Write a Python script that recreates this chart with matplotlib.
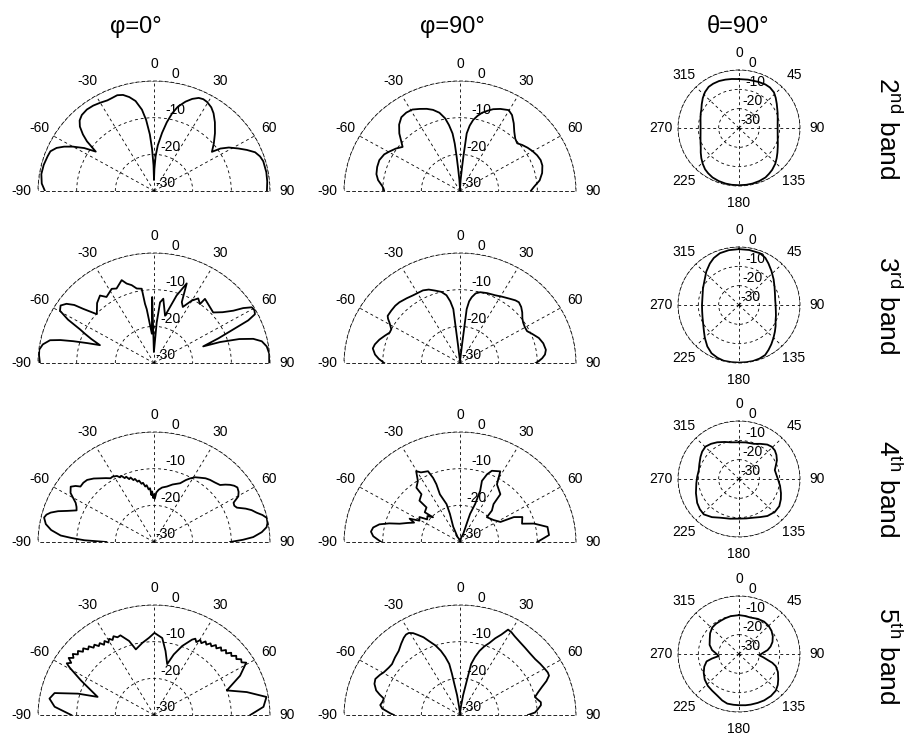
import numpy as np
import matplotlib
matplotlib.use('Agg')
import matplotlib.pyplot as plt
from matplotlib.transforms import offset_copy

plt.rcParams['font.family'] = ['Liberation Sans', 'DejaVu Sans']
plt.rcParams['axes.unicode_minus'] = False
plt.rcParams['mathtext.default'] = 'regular'

# ---- pattern data (angle in degrees, gain in dB) ----
# 2nd band
ang_b2_phi0 = [-90, -86, -81, -76, -71, -68, -65, -62.5, -60, -57, -54.5, -52, -50, -47.5, -45, -42,
               -38, -34, -30, -26, -23, -20, -17, -14, -11, -8, -6, -4, -2.5, -1, 0,
               1, 2.5, 4.5, 7.5, 10, 12.5, 15, 18.5, 21.5, 24.5, 27, 29.5, 33, 36, 40, 45, 50, 54.5,
               56, 58.5, 62, 65, 68, 71, 74, 80, 85, 90]
db_b2_phi0 = [-1.8, -0.9, -0.5, -0.6, -0.9, -1.1, -2.2, -3.8, -5.8, -8.5, -11.5, -8, -6, -4, -2.8, -2.1,
              -1.8, -1.9, -2.2, -2.5, -2.4, -2.2, -2.6, -3.6, -5, -7.6, -10.5, -14.5, -18.5, -23, -27,
              -24, -20.5, -17.5, -14, -11, -8.3, -6.2, -4.3, -3, -2.1, -1.9, -2.1, -2.8, -3.8, -5.5, -7.7,
              -9.8, -11.6, -9.3, -7.3, -5.3, -3.5, -1.8, -1, -0.6, -0.5, -0.6, -0.8]

ang_b2_phi90 = [-90, -88, -86, -82, -78, -73, -68, -63, -59.5, -55, -51, -48, -45, -41, -37, -33, -29,
                -25, -21, -17.5, -14, -11, -9, -7, -6, -5.3, -4.5, -3, 0, 3, 4.5, 5.3, 6.3, 8, 10,
                12.5, 15, 18, 21, 25, 29.7, 33, 37, 41, 45, 48.7, 52, 56, 60, 64, 68, 72, 77, 82, 86.5,
                90]
db_b2_phi90 = [-10.4, -10.2, -9.8, -8.6, -7.9, -7.6, -7.5, -8, -8.8, -9.8, -10.9, -9.5, -7.8, -6, -4.8,
               -4.5, -4.6, -5.3, -6, -6.8, -8, -9.8, -11.8, -14.2, -17, -20.6, -24, -27, -29.5, -27, -24,
               -20.6, -14.2, -12, -10.3, -9, -7.9, -7, -6.1, -5.3, -4.6, -5.3, -6.9, -8.6, -9.8, -10.3,
               -9.6, -8.9, -8.3, -7.8, -7.5, -7.6, -8.2, -9.2, -10.8, -11.7]

ang_b2_th90 = [0, 10, 22, 30, 36, 43, 49, 56, 62, 68, 75, 82, 90, 98, 106, 112, 117, 124, 130, 136,
               143, 148, 153, 160, 167, 173, 180, 187, 193, 200, 207, 213, 218, 224, 230, 236, 242,
               248, 255, 262, 270, 278, 285, 292, 297, 304, 311, 318, 325, 331, 338, 345, 352]
db_b2_th90 = [-4.7, -4.6, -4.3, -4.0, -4.1, -4.8, -6.1, -7.6, -8.7, -9.5, -10.3, -10.8, -11, -10.8,
              -10.2, -9.4, -8.6, -7.2, -5.8, -4.3, -2.9, -2.1, -1.3, -0.8, -0.5, -0.4, -0.4, -0.4, -0.5,
              -0.8, -1.3, -2.1, -2.9, -4.3, -5.8, -7.3, -8.7, -9.6, -10.4, -10.9, -11.1, -10.9, -10.4,
              -9.7, -9.2, -7.9, -6.4, -5, -4, -3.8, -3.8, -4.1, -4.4]

# 3rd band
ang_b3_phi0 = [-90, -86, -83, -80, -77, -75.5, -74.1, -72.5, -70.8, -68, -66, -64.4, -62, -59.6, -57,
               -54.5, -52.5, -51.1, -48, -42, -37.2, -34.3, -28.4, -25.5, -20.3, -18.1, -15.2, -12.4,
               -8.9, -8.2, -7.3, -4, -1.5, -0.5, 3.6, 5.4, 7.8, 12.5, 17.6, 21.3, 23.4, 26, 29.8, 33,
               36.5, 37, 43.7, 48, 52, 55.2, 57, 59, 61, 63, 64.5, 65.9, 68, 70.4, 71.5, 73.5, 75.6, 78,
               81.2, 85, 90]
db_b3_phi0 = [-0.5, -0.2, -0.1, -0.8, -2.4, -5, -8.3, -12, -15.2, -12.5, -10.5, -8.8, -4.8, -1.8, -1.2,
              -2.2, -4, -6.5, -10.1, -8, -6.9, -8.2, -7, -7.5, -5.9, -7.2, -8, -9.2,
              -9.5, -13.7, -15.2, -22, -12, -27, -19, -13.4, -12.3, -16.8, -10.7, -6.7, -11.9, -13, -10.4, -9,
              -10, -8.1, -9, -9.4, -7.5, -5, -2.5, -0.5, -0.3, -0.7, -3, -7.5, -12, -16.5, -12, -7, -3.5,
              -1.5, -0.5, -0.1, -0.2]

ang_b3_phi90 = [-90, -87, -84, -80, -77, -73, -69, -65.5, -62.7, -60.5, -58.9, -57, -55.5, -51.3, -47,
                -43.4, -38, -33.5, -29.5, -25.8, -22, -18.2, -14, -10.7, -8.5, -6.7, -6.5, -6, 0,
                6, 6.5, 6.7, 8, 9.6, 12, 15.1, 20, 26.3, 31, 36.7, 40, 42.6, 46, 49.4, 53, 56, 60, 63.4,
                67, 71.5, 76, 80.8, 84, 86.5, 88.5, 90]
db_b3_phi90 = [-10.4, -9, -7.9, -7.1, -7.4, -8.2, -9.2, -10, -10, -9.3, -8.7, -7.8, -7.3, -7.2, -7.1,
               -7.2, -7.6, -7.9, -8, -8, -8.4, -9.2, -10, -11.2, -13, -15.2, -20.8, -25, -29.5,
               -25, -20.8, -15.2, -13, -11.8, -10.6, -10, -9.7, -9.4, -8.9, -8.2, -7.7, -7.5, -8, -8.8,
               -9.8, -10.3, -10.6, -10.6, -9.7, -8.5, -7.8, -7.5, -7.9, -8.7, -9.6, -10.4]

ang_b3_th90 = [0, 10, 21, 28, 34, 42, 52, 62, 72, 81.5, 90, 100, 107, 114, 121, 128, 135, 142, 148,
               153.6, 160, 166.6, 173, 180, 187, 194.6, 201, 208.4, 216, 224.7, 232, 240, 250.9, 260,
               270, 284, 296, 308.5, 317, 326.2, 333, 340.7, 350]
db_b3_th90 = [-1.1, -1.1, -1.3, -2.4, -4.1, -6.2, -8.4, -10.2, -11.4, -12, -12, -11.6, -11, -10.3, -9,
              -7.6, -6, -4.2, -2.6, -1.1, -0.5, -0.2, -0.2, -0.2, -0.2, -0.2, -0.7, -1.6, -3.5, -6.1,
              -8.1, -9.7, -11, -11.6, -11.8, -11.5, -10.3, -8.5, -6.4, -4.2, -2.7, -1.6, -1.2]

# 4th band
ang_b4_phi0 = [-90, -88.5, -87, -85.8, -83, -80.1, -76.8, -75, -73.3, -71.3, -69.3, -66.7, -64.5, -62.2,
               -60, -58.2, -55, -53, -51.5, -48.5, -45.6, -42, -38.5, -35.5, -32.9, -31, -29.5, -28,
               -26.5, -25, -23.5, -22, -20.5, -19, -17.5, -16, -14.5, -13, -11.5, -10, -8.5, -7, -5.5,
               -4, -3, -2, -1, 0, 1, 2.5, 4.8, 8, 12.5, 17, 22.9, 26, 28.3, 31, 34.2, 37.5, 40.6, 44,
               47.7, 49.7, 51.6, 53.5, 55.4, 58, 60.3, 62.5, 64.5, 66.4, 69, 71, 73.2, 75.3, 77.3, 80,
               82.1, 84.5, 87, 88.5, 90]
db_b4_phi0 = [-17.7, -12, -8.5, -5.8, -3.2, -1.6, -0.8, -1.2, -2.1, -3.8, -6, -8.2, -7.8, -7.1,
              -5.8, -4.6, -3.7, -4.6, -5.7, -5.6, -5.8, -6.7, -7.8, -8.6, -9.3, -9.2, -9.4, -9.6,
              -10.3, -10.1, -11.0, -10.8, -11.7, -11.4, -12.3, -12.1, -13.0, -12.8, -13.8, -13.6, -14.7,
              -14.4, -15.6, -15.3, -17.2, -16.2, -18, -17, -18.2, -16.5, -15.7, -15, -14.5, -13.6, -12.6,
              -11.2, -10.3, -9.4, -8.8, -8.1, -7.7, -7.4, -6.9, -5.8, -4.9, -4.2, -3.8, -4.2, -4.9, -6.8,
              -7, -6.6, -4.6, -3.3, -2.3, -1, -0.1, -0.2, -0.6, -2, -4.3, -7, -10.3]

ang_b4_phi90 = [-90, -86, -83, -80, -77, -74.5, -72.3, -69, -66, -64, -61, -57, -54, -50, -46, -48.3,
                -42.6, -42.9, -37.4, -37.3, -33.2, -30.4, -28, -23.2, -21.7, -21.2, -21.8, -18.6,
                -18.8, -22.9, -25, 0, 20.6, 19.1, 18.8, 20.7, 20.5, 18.8, 20.7, 23, 28.4, 31.3, 38.7,
                40, 43.9, 45.7, 55, 62.4, 64, 67.1, 72.7, 75.3, 79.7, 85.3, 90]
db_b4_phi90 = [-9.6, -7.5, -6.8, -7.2, -8.6, -11, -13.6, -15.5, -17, -15.5, -18, -17.5, -19.5, -19,
               -20.3, -17.8, -17.2, -14.6, -13.6, -11.4, -10.1, -7.6, -8.5, -9, -11.2, -13.1, -16,
               -19.1, -21.9, -25.5, -28.5, -29.5, -27.5, -24.7, -21.9, -18.9, -15.1, -12.4, -10.3, -8.9,
               -8.1, -11.6, -13.3, -16.5, -18.1, -20.3, -19.5, -18.2, -14.5, -12.5, -13.2, -10.2, -7,
               -6.9, -10]

ang_b4_th90 = [0, 10, 22, 30, 38, 44, 50, 56, 62.6, 69, 75.4, 83, 91.5, 100, 109.5, 117, 125.4, 134,
               143.8, 152, 159.7, 170, 180, 192, 204.4, 214, 223.4, 231, 239, 251, 264, 273, 283, 292,
               301, 308, 315.5, 323, 330.6, 340, 347.8]
db_b4_th90 = [-11, -10.8, -10.4, -9, -7.4, -6.8, -7, -7.8, -9, -10.6, -11.8, -11.5, -10.7, -9.5, -8.1,
              -6.9, -5.7, -5.5, -6.3, -7.7, -8.7, -9.3, -9.5, -9, -8, -6.2, -4.8, -5.2, -6, -7.6, -8.9,
              -9.4, -9.7, -9, -7.9, -7, -6.5, -7.2, -8.2, -9.6, -10.6]

# 5th band
ang_b5_phi0 = [-90, -85, -80.6, -76.9, -73.5, -71.3, -63.5, -59.3, -58, -56.4, -54.8, -53.2, -51.6,
               -50, -48.4, -46.8, -45.2, -43.6, -42, -40.4, -38.8, -37.2, -35.6, -34, -32.4, -30.8,
               -29.2, -27.6, -26, -24, -21.8, -17.7, -14.7, -8.7, -3.5, 0.3, 5.8, 9.7, 13.8, 17.2,
               21.2, 25.6, 27.2, 28.8, 30.4, 32, 33.6, 35.2, 36.8, 38.4, 40, 41.6, 43.2, 44.8, 46.4,
               48, 49.6, 51.2, 52.8, 54.4, 56, 57.6, 59.1, 64.3, 70.4, 75.4, 80.4, 85.5, 90]
db_b5_phi0 = [-8.6, -4.2, -2.6, -3.6, -9.5, -14.6, -8.9, -4.6, -3.4, -4.3, -3.0, -4.0, -3.2,
              -4.3, -3.7, -4.8, -4.2, -5.3, -4.8, -5.9, -5.4, -6.4, -5.9, -6.9, -6.1, -7.0,
              -6.2, -6.9, -6.1, -6.8, -6.6, -8.8, -11.5, -10.1, -8.9, -7.6, -8.9, -12.3, -15.7, -12.7,
              -9.8, -7.2, -6.6, -7.3, -6.3, -6.9, -5.9, -6.5, -5.6, -6.1, -5.1, -5.7, -4.7, -5.3, -4.3,
              -4.9, -3.8, -4.3, -3.3, -3.8, -2.8, -3.2, -2.2, -5.3, -10, -5.2, -0.5, -1.6, -5.1]

ang_b5_phi90 = [-90, -88.6, -85, -82.5, -80, -77.2, -75, -72.8, -69, -65.8, -62, -59.5, -55, -51.7, -47,
                -42.2, -38, -34.6, -32.5, -30.6, -28.5, -26.7, -24, -21.7, -18.5, -15.8, -13.5, -11.3,
                -10.5, -9.8, -8, -6, 0, 6, 8.5, 10.4, 11.2, 11.7, 13.8, 16.1, 18.5, 21.2, 23.5, 26,
                28.1, 30.5, 33.4, 38, 42.4, 47, 51.9, 56, 60.3, 63, 65, 67.5, 70.2, 73, 75.8, 78, 80.5,
                82.7, 85.5, 88, 90]
db_b5_phi90 = [-12.9, -12, -9.8, -9.2, -9.6, -9.8, -8.5, -7.3, -6.3, -6, -6.6, -7.1, -7.5, -7.6, -7,
               -6.4, -5.3, -4.4, -4, -4, -4.6, -5.5, -6.8, -8.3, -10, -11.8, -13.7, -15.8,
               -18.5, -21.4, -24.5, -27.7, -29.5, -27.7, -24.5, -21.3, -18.5, -15.8, -13.7, -11.8, -10.3,
               -8.9, -7.2, -5.6, -3.6, -3.8, -4.3, -4.8, -5.1, -5.3, -5.3, -5, -4.7, -4.5, -4.6, -5.8,
               -7.5, -8.9, -10, -9.5, -8.8, -8.9, -9.8, -10.6, -12.4]

ang_b5_th90 = [0, 8, 17, 27, 36.4, 45, 53, 61, 69.3, 76, 81.8, 88, 93.8, 98, 102.2, 105.5, 109.3, 116,
               124.1, 130, 136.3, 144, 152.7, 160, 167.6, 173, 180, 186, 192.7, 199, 206.5, 215, 223,
               232, 240.7, 249, 256.5, 260, 264, 271, 278.7, 288, 298.8, 307, 316.2, 324, 332, 340,
               348.2]
db_b5_th90 = [-9.9, -10.1, -10.3, -9.6, -9.2, -9.4, -10, -11, -12.4, -14, -15.8, -18.5, -20, -18, -15.7,
              -13, -10.8, -8.7, -6.7, -5.1, -3.8, -3.2, -3, -3.1, -3.2, -3.3, -3.5, -3.6, -3.7, -4.6,
              -6, -6.9, -7.5, -8.6, -10.1, -11.7, -13.6, -16.5, -20, -18.8, -16.6, -14.8, -13.6, -12.2,
              -11, -10.7, -10.6, -10.3, -10]

half_rows = [
    (ang_b2_phi0, db_b2_phi0, ang_b2_phi90, db_b2_phi90),
    (ang_b3_phi0, db_b3_phi0, ang_b3_phi90, db_b3_phi90),
    (ang_b4_phi0, db_b4_phi0, ang_b4_phi90, db_b4_phi90),
    (ang_b5_phi0, db_b5_phi0, ang_b5_phi90, db_b5_phi90),
]
full_rows = [(ang_b2_th90, db_b2_th90), (ang_b3_th90, db_b3_th90),
             (ang_b4_th90, db_b4_th90), (ang_b5_th90, db_b5_th90)]
band_labels = ['2$^{nd}$ band', '3$^{rd}$ band', '4$^{th}$ band', '5$^{th}$ band']
col_titles = ['φ=0°', 'φ=90°', 'θ=90°']
r_ticks = [-30, -20, -10, 0]

W, H = 912, 738
DASH = (0, (3.5, 3.5))

# layout in pixels
half_cx = [154, 460]
half_base = [191, 363, 542, 715]
half_rh, half_rv = 116, 110
full_cx = 739
full_cy = [128, 305, 479, 654]
full_rh, full_rv = 61, 58


def style(ax, thetas):
    ax.set_theta_zero_location('N')
    ax.set_theta_direction(-1)
    ax.set_rlim(-30, 0)
    ax.set_thetagrids(thetas, labels=[str(t) for t in thetas], fontsize=10)
    ax.set_rgrids(r_ticks, labels=[''] * len(r_ticks))
    ax.grid(True, color='black', linestyle=DASH, linewidth=0.6)
    for sp in ax.spines.values():
        sp.set_linestyle(DASH)
        sp.set_linewidth(0.6)
    ax.tick_params(length=0)
    ax.tick_params(axis='x', pad=5)
    ax.set_aspect('auto')
    # radial labels, matlab style, just right of the 0 deg spoke
    tr = offset_copy(ax.transData, fig=ax.figure, x=1, y=1, units='dots')
    for r in r_ticks:
        ax.text(np.deg2rad(8), r, str(r), transform=tr, ha='left', va='bottom', fontsize=10)


fig = plt.figure(figsize=(W / 100, H / 100), dpi=100)

for i, (a0, d0, a1, d1) in enumerate(half_rows):
    for j, (a, d) in enumerate([(a0, d0), (a1, d1)]):
        # wedge bbox is squared by matplotlib: half disk sits between -0.5R and 1.5R
        rect = [(half_cx[j] - half_rh) / W, (H - half_base[i] - 0.5 * half_rv) / H,
                2 * half_rh / W, 2 * half_rv / H]
        ax = fig.add_axes(rect, projection='polar')
        ax.plot(np.deg2rad(a), d, color='black', lw=1.3)
        ax.set_thetamin(-90)
        ax.set_thetamax(90)
        style(ax, list(range(-90, 91, 30)))

for i, (a, d) in enumerate(full_rows):
    rect = [(full_cx - full_rh) / W, (H - full_cy[i] - full_rv) / H, 2 * full_rh / W, 2 * full_rv / H]
    ax = fig.add_axes(rect, projection='polar')
    ax.plot(np.deg2rad(a + [a[0]]), d + [d[0]], color='black', lw=1.3)
    style(ax, list(range(0, 360, 45)))

for x, t in zip([136, 452, 738], col_titles):
    fig.text(x / W, 1 - 27 / H, t, ha='center', va='center', fontsize=17)

for y, t in zip([128, 305, 489, 656], band_labels):
    fig.text(888 / W, 1 - y / H, t, rotation=-90, ha='center', va='center', fontsize=19)

fig.savefig('out.png', dpi=100, facecolor='white')
